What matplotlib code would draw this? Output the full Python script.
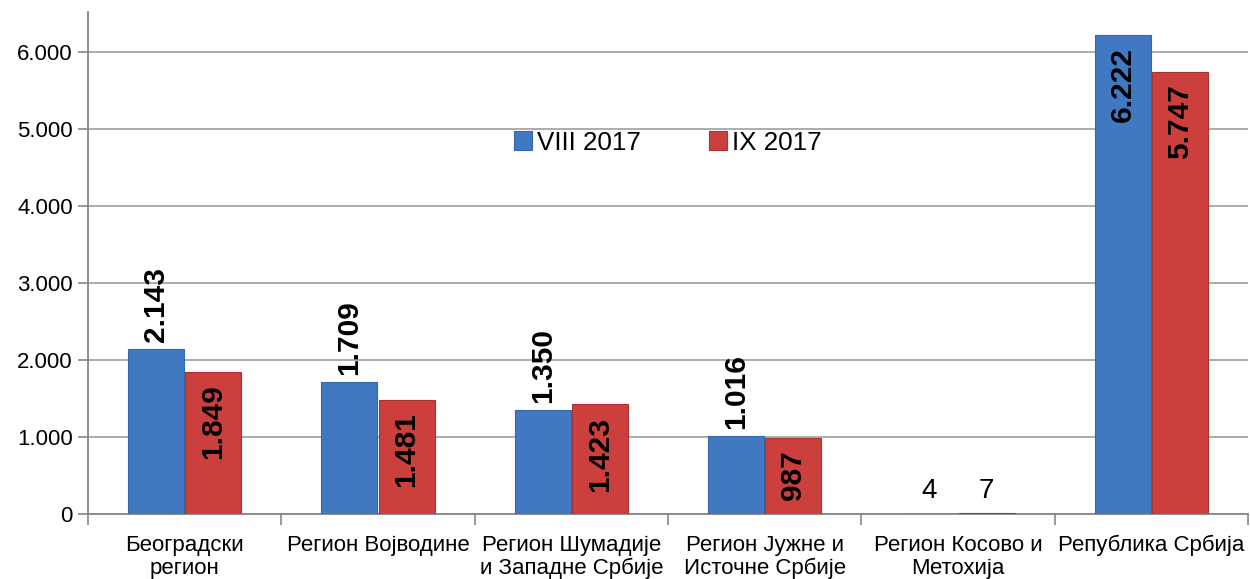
import numpy as np
import matplotlib
matplotlib.use("Agg")
import matplotlib.pyplot as plt

plt.rcParams['font.family'] = ['Liberation Sans', 'DejaVu Sans']

regions = ["Београдски\nрегион", "Регион Војводине", "Регион Шумадије\nи Западне Србије",
           "Регион Јужне и\nИсточне Србије", "Регион Косово и\nМетохија", "Република Србија"]
aug_2017 = [2143, 1709, 1350, 1016, 4, 6222]
sep_2017 = [1849, 1481, 1423, 987, 7, 5747]
series_names = ["VIII 2017", "IX 2017"]


def fmt(v):
    return f"{v:,}".replace(",", ".")


fig = plt.figure(figsize=(12.5, 5.79), dpi=100)
ax = fig.add_axes([0.0704, 0.1123, 0.928, 0.867])

x = np.arange(len(regions))
w = 0.29
gap = 0.006
blue = "#4178C2"
red = "#CB403D"
b1 = ax.bar(x - w / 2 - gap / 2, aug_2017, w, color=blue, edgecolor="#3566A8", linewidth=0.8,
            label=series_names[0], zorder=3)
b2 = ax.bar(x + w / 2 + gap / 2, sep_2017, w, color=red, edgecolor="#A83432", linewidth=0.8,
            label=series_names[1], zorder=3)

# data labels
for i, (r1, r2) in enumerate(zip(b1, b2)):
    v1, v2 = aug_2017[i], sep_2017[i]
    cx1 = r1.get_x() + r1.get_width() / 2
    cx2 = r2.get_x() + r2.get_width() / 2
    if v1 < 100:
        for cx, v in ((cx1, v1), (cx2, v2)):
            ax.annotate(str(v), (cx, v), xytext=(0, 7), textcoords="offset points",
                        ha="center", va="bottom", fontsize=20, zorder=4)
        continue
    if v1 > 5000:
        ax.annotate(fmt(v1), (cx1, v1), xytext=(0, -9), textcoords="offset points",
                    ha="center", va="top", rotation=90, fontsize=21.5, fontweight="bold", zorder=4)
    else:
        ax.annotate(fmt(v1), (cx1, v1), xytext=(0, 5), textcoords="offset points",
                    ha="center", va="bottom", rotation=90, fontsize=21.5, fontweight="bold", zorder=4)
    ax.annotate(fmt(v2), (cx2, v2), xytext=(0, -9), textcoords="offset points",
                ha="center", va="top", rotation=90, fontsize=21.5, fontweight="bold", zorder=4)

ax.set_xlim(-0.5, len(regions) - 0.5)
ax.set_ylim(0, 6520)
ax.set_yticks(range(0, 7000, 1000))
ax.set_yticklabels([fmt(v) for v in range(0, 7000, 1000)], fontsize=16)
ax.set_xticks(x)
ax.set_xticklabels(regions, fontsize=16, linespacing=1.12)
ax.set_xticks(np.arange(-0.5, len(regions), 1.0), minor=True)
ax.tick_params(axis="x", which="major", length=0, pad=15)
ax.tick_params(axis="x", which="minor", length=8, color="#868686", width=1.2)
ax.tick_params(axis="y", length=7, color="#868686", width=1.2, pad=4)

ax.grid(axis="y", color="#A6A6A6", linewidth=1.3, zorder=0)
for s in ("top", "right"):
    ax.spines[s].set_visible(False)
for s in ("left", "bottom"):
    ax.spines[s].set_color("#868686")
    ax.spines[s].set_linewidth(1.3)

ax.legend(loc="center", bbox_to_anchor=(0.5, 0.74), ncol=2, frameon=False, fontsize=18.7,
          handlelength=0.7, handleheight=0.7, handletextpad=0.2, columnspacing=2.6)

fig.savefig("out.png", dpi=100)
